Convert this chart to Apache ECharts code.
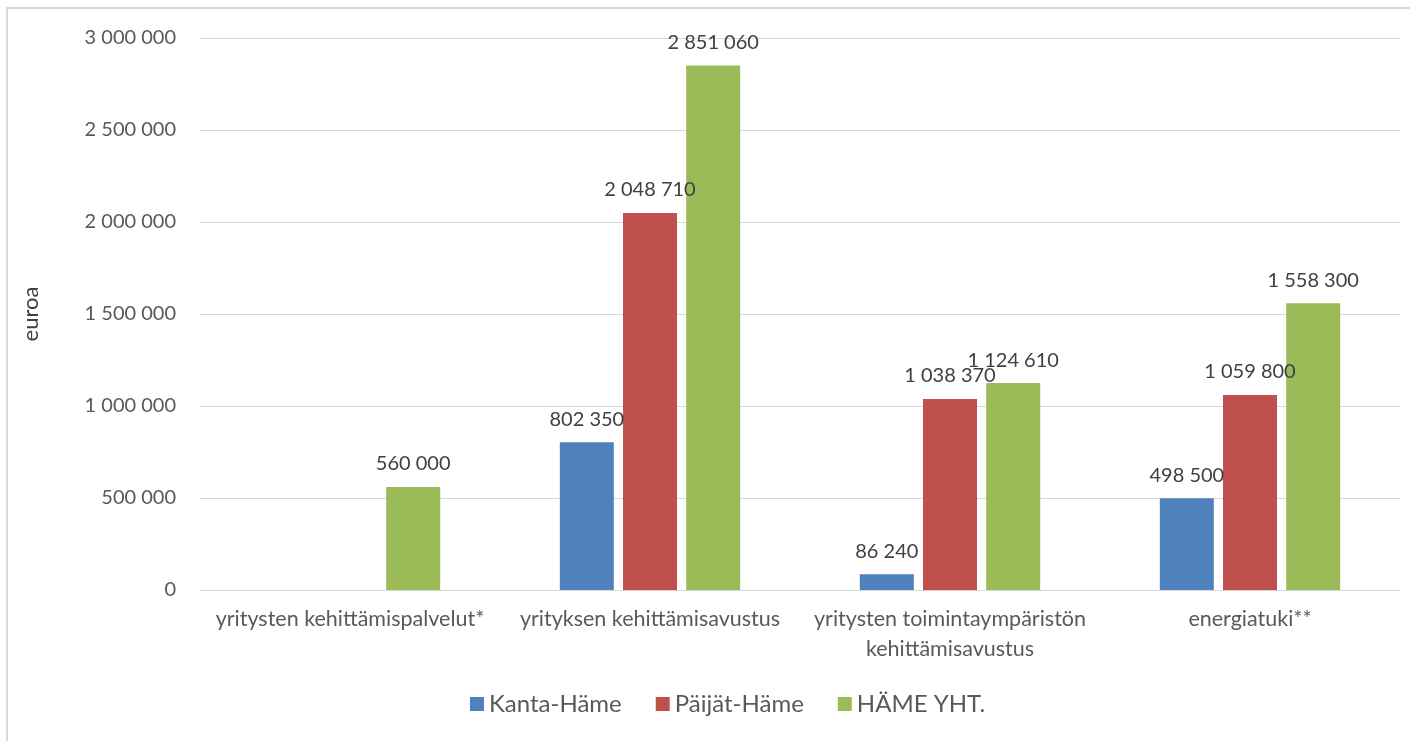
<!DOCTYPE html>
<html>
<head>
<meta charset="utf-8">
<script src="https://cdn.jsdelivr.net/npm/echarts@6/dist/echarts.min.js"></script>
<style>
  html, body { margin: 0; padding: 0; background: #fff; }
  #chart { width: 1410px; height: 741px; }
</style>
</head>
<body>
<div id="chart"></div>
<script>
// Data
const categories = [
  'yritysten kehittämispalvelut*',
  'yrityksen kehittämisavustus',
  'yritysten toimintaympäristön\nkehittämisavustus',
  'energiatuki**'
];
const kantaHame = [null, 802350, 86240, 498500];
const paijatHame = [null, 2048710, 1038370, 1059800];
const hameYht = [560000, 2851060, 1124610, 1558300];

const fmt = v => String(Math.round(v)).replace(/\B(?=(\d{3})+(?!\d))/g, ' ');

const FONT = 'Lato, "Open Sans", sans-serif';

const labelOpt = {
  show: true,
  position: 'top',
  distance: 13,
  color: '#404040',
  fontSize: 20,
  fontFamily: FONT,
  formatter: p => fmt(p.value)
};

const makeSeries = (name, data, color) => ({
  name: name,
  type: 'bar',
  data: data,
  barWidth: 54,
  barGap: '17%',
  itemStyle: { color: color },
  label: labelOpt
});

const myChart = echarts.init(document.getElementById('chart'));
const option = {
  backgroundColor: '#fff',
  textStyle: { fontFamily: FONT },
  animation: false,
  graphic: [{
    type: 'rect',
    shape: { x: 7, y: 8, width: 1420, height: 760 },
    style: { fill: 'none', stroke: '#d9d9d9', lineWidth: 2 },
    silent: true
  }],
  legend: {
    bottom: 20,
    left: 465,
    itemWidth: 14,
    itemHeight: 14,
    itemGap: 34,
    icon: 'rect',
    textStyle: { color: '#595959', fontSize: 24, fontFamily: FONT },
    data: ['Kanta-Häme', 'Päijät-Häme', 'HÄME YHT.']
  },
  grid: { left: 200, right: 10, top: 38, bottom: 151, containLabel: false },
  xAxis: {
    type: 'category',
    data: categories,
    axisLine: { show: true, lineStyle: { color: '#d9d9d9' } },
    axisTick: { show: false },
    axisLabel: {
      color: '#595959',
      fontSize: 21.5,
      fontFamily: FONT,
      margin: 14,
      lineHeight: 30,
      interval: 0
    }
  },
  yAxis: {
    type: 'value',
    min: 0,
    max: 3000000,
    interval: 500000,
    name: 'euroa',
    nameLocation: 'middle',
    nameGap: 158,
    nameRotate: 90,
    nameTextStyle: { color: '#404040', fontSize: 22, fontFamily: FONT },
    axisLine: { show: false },
    axisTick: { show: false },
    splitLine: { lineStyle: { color: '#d9d9d9', width: 1 } },
    axisLabel: {
      color: '#595959',
      fontSize: 20,
      fontFamily: FONT,
      margin: 24,
      formatter: v => fmt(v)
    }
  },
  series: [
    makeSeries('Kanta-Häme', kantaHame, '#4f81bd'),
    makeSeries('Päijät-Häme', paijatHame, '#c0504d'),
    makeSeries('HÄME YHT.', hameYht, '#9bbb59')
  ]
};
myChart.setOption(option);
</script>
</body>
</html>
